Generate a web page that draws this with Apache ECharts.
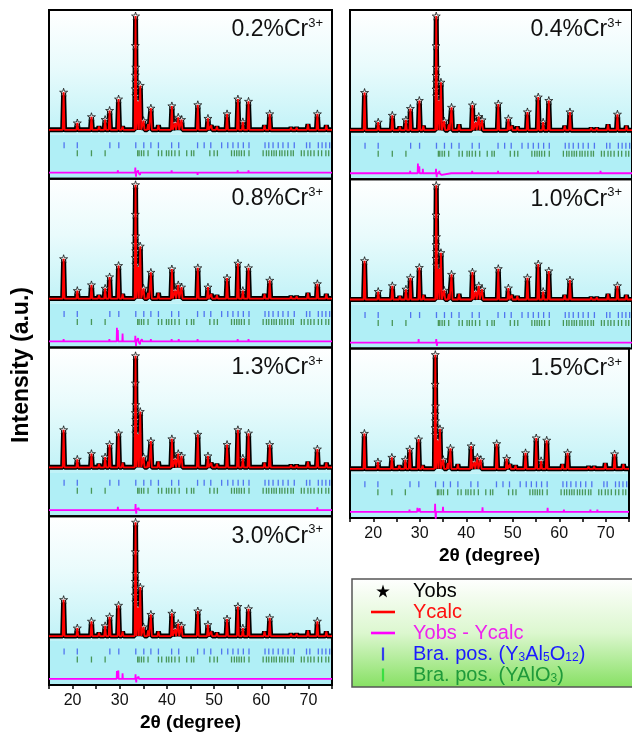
<!DOCTYPE html>
<html><head><meta charset="utf-8">
<script src="https://cdn.jsdelivr.net/npm/echarts@6/dist/echarts.min.js"></script>
<style>html,body{margin:0;padding:0;background:#fff}#c{width:632px;height:734px}</style>
</head><body><div id="c"></div>
<script>
// ---------------- DATA ----------------
const xTickLabels = [20, 30, 40, 50, 60, 70];
const peakPos = [18.1,21.0,24.0,25.6,26.9,27.85,29.75,30.6,33.35,33.85,34.35,35.05,36.0,36.6,38.2,41.05,41.75,42.4,43.1,46.55,48.7,49.4,50.6,52.75,55.05,56.1,57.3,60.7,61.8,66.3,67.5,69.9,71.9,73.8];
const h02 = [0.33,0.06,0.115,0.03,0.09,0.17,0.27,0.03,1.0,0.25,0.39,0.08,0.05,0.19,0.04,0.21,0.06,0.11,0.09,0.22,0.10,0.04,0.03,0.14,0.27,0.07,0.25,0.04,0.14,0.02,0.02,0.05,0.14,0.04];
const h04 = [0.33,0.07,0.13,0.03,0.09,0.19,0.26,0.04,1.0,0.26,0.42,0.08,0.05,0.20,0.05,0.22,0.07,0.12,0.09,0.23,0.10,0.04,0.03,0.16,0.29,0.07,0.26,0.04,0.16,0.02,0.02,0.05,0.14,0.04];
const h08 = [0.35,0.07,0.12,0.03,0.09,0.19,0.29,0.04,1.0,0.28,0.46,0.09,0.05,0.23,0.05,0.26,0.07,0.12,0.10,0.27,0.10,0.04,0.03,0.18,0.31,0.07,0.27,0.04,0.16,0.02,0.02,0.05,0.13,0.04];
const h10 = [0.34,0.07,0.12,0.03,0.09,0.19,0.28,0.04,1.0,0.27,0.41,0.08,0.05,0.22,0.05,0.24,0.07,0.12,0.09,0.27,0.10,0.04,0.03,0.19,0.31,0.07,0.25,0.04,0.17,0.02,0.02,0.05,0.12,0.04];
const h13 = [0.33,0.07,0.12,0.03,0.09,0.20,0.30,0.04,0.98,0.29,0.49,0.09,0.05,0.23,0.05,0.25,0.07,0.12,0.10,0.29,0.10,0.04,0.03,0.20,0.33,0.08,0.30,0.04,0.20,0.02,0.02,0.05,0.16,0.04];
const h15 = [0.31,0.06,0.10,0.03,0.08,0.17,0.26,0.03,1.0,0.25,0.35,0.08,0.05,0.18,0.04,0.20,0.06,0.10,0.08,0.22,0.09,0.04,0.03,0.14,0.27,0.07,0.25,0.04,0.14,0.02,0.02,0.05,0.13,0.04];
const h30 = [0.32,0.07,0.13,0.03,0.09,0.17,0.27,0.04,1.0,0.25,0.43,0.08,0.05,0.19,0.04,0.20,0.06,0.11,0.09,0.22,0.10,0.04,0.03,0.15,0.26,0.07,0.24,0.04,0.16,0.02,0.02,0.05,0.13,0.04];
const mainPeakObs = [0.74, 0.55, 0.48, 0.42, 0.36, 0.30];
const braggYAG = [18.2,21.0,27.9,29.8,33.4,35.1,36.6,38.2,41.0,42.5,46.5,47.9,49.3,51.6,52.9,54.0,55.1,56.2,57.4,60.8,61.6,62.5,63.6,64.6,65.7,67.0,69.6,70.3,72.1,72.9,73.7,74.5];
const braggYAP = [21.0,24.0,26.9,33.8,34.1,34.6,35.1,36.0,38.2,38.9,39.9,40.4,41.0,41.7,42.6,44.2,45.2,45.7,49.1,50.0,50.7,53.7,54.3,54.8,55.3,55.8,56.4,57.4,60.4,61.1,61.6,62.2,62.7,63.2,63.9,64.4,65.0,65.6,66.3,66.8,68.5,69.1,69.9,70.5,71.2,72.1,72.8,73.7,74.3];
const d02 = [[18.1,0.015],[18.25,-0.01],[24.0,0.01],[27.8,0.015],[29.6,0.02],[29.9,0.015],[30.6,0.01],[33.3,0.045],[33.45,-0.035],[33.9,0.02],[34.3,-0.02],[34.6,0.015],[35.1,0.01],[36.6,0.015],[41.0,0.02],[41.3,-0.01],[42.5,0.015],[46.5,-0.02],[48.7,0.015],[52.7,0.015],[55.0,0.02],[55.2,-0.015],[57.3,0.02],[61.8,0.015],[71.9,0.015]];
const d04 = [[18.1,0.015],[24.0,0.01],[27.8,0.02],[29.45,0.085],[29.75,0.06],[30.5,0.04],[33.3,0.04],[33.45,-0.035],[34.0,0.02],[34.5,-0.015],[36.6,0.015],[41.0,0.02],[42.5,0.015],[46.5,0.02],[52.7,0.015],[55.0,0.02],[57.3,0.015],[61.8,0.015],[66.7,0.015],[68.3,0.02],[71.9,0.015]];
const d08 = [[18.1,0.02],[24.0,0.012],[27.8,0.02],[29.4,0.12],[29.6,0.10],[30.6,0.07],[33.3,0.05],[33.45,-0.04],[33.9,0.03],[34.3,-0.025],[34.7,0.02],[36.6,0.02],[41.0,0.02],[42.5,0.02],[46.5,0.02],[48.7,0.015],[52.7,0.015],[55.0,0.02],[57.3,0.02],[61.8,0.015],[71.9,0.015]];
const d10 = [[18.1,0.012],[24.0,0.01],[27.8,0.012],[29.6,0.03],[30.6,0.012],[33.35,0.03],[33.5,-0.03],[34.2,0.015],[36.6,0.01],[41.0,0.012],[46.5,0.012],[55.0,0.015],[57.3,0.012],[61.8,0.01],[71.9,0.01]];
const d13 = [[18.1,0.015],[24.0,0.01],[27.8,0.015],[29.6,0.03],[30.6,0.015],[33.35,0.055],[33.5,-0.03],[34.0,0.02],[34.4,-0.015],[36.6,0.015],[41.0,0.015],[42.5,0.012],[46.5,0.015],[52.7,0.012],[55.0,0.015],[57.3,0.015],[61.8,0.012],[71.9,0.025]];
const d15 = [[18.1,0.012],[24.0,0.01],[27.8,0.02],[29.5,0.035],[30.0,0.03],[33.3,0.07],[33.45,-0.07],[35.0,0.045],[36.6,0.015],[41.0,0.015],[43.5,0.04],[46.5,0.015],[52.7,0.015],[55.0,0.015],[57.5,0.035],[61.0,0.02],[66.7,0.02],[68.2,0.02],[71.9,0.012]];
const d30 = [[18.1,0.015],[24.0,0.01],[27.8,0.015],[29.4,0.07],[29.7,0.075],[30.6,0.05],[33.35,0.04],[33.5,-0.03],[34.0,0.02],[34.4,-0.015],[36.6,0.015],[41.0,0.015],[46.5,0.015],[52.7,0.012],[55.0,0.015],[57.3,0.015],[61.8,0.012],[71.9,0.015]];

// ---------------- LAYOUT / STYLE ----------------
const X_MIN = 15, X_MAX = 75;
const Y_MIN = -0.43, Y_MAX = 1.053, Y_SPLIT = -0.044;
const Y_BLUE = -0.136, Y_GREEN = -0.206, DIFF_BASE = -0.377;
const COL_X = [49, 350], COL_W = 283, TOP = 10, ROW_H = [168.75, 169.3];
const FONT = 'Arial, "Liberation Sans", sans-serif';
const STAR = 'path://M50,2 L61,37 L98,37 L68,59 L79,95 L50,73 L21,95 L32,59 L2,37 L39,37 Z';

const panels = [
  {cr:'0.2', col:0, row:0, h:h02, d:d02},
  {cr:'0.8', col:0, row:1, h:h08, d:d08, ticks:true},
  {cr:'1.3', col:0, row:2, h:h13, d:d13},
  {cr:'3.0', col:0, row:3, h:h30, d:d30, bottom:true},
  {cr:'0.4', col:1, row:0, h:h04, d:d04},
  {cr:'1.0', col:1, row:1, h:h10, d:d10},
  {cr:'1.5', col:1, row:2, h:h15, d:d15, bottom:true}
];

function profile(h) {
  const pts = [[X_MIN, 0]];
  peakPos.forEach((p, k) => { pts.push([p - 0.2, 0], [p, h[k]], [p + 0.2, 0]); });
  pts.push([X_MAX, 0]);
  return pts;
}
function obsStars(h) {
  const pts = [];
  peakPos.forEach((p, k) => { if (h[k] >= 0.06) pts.push([p, h[k]]); });
  mainPeakObs.forEach((v, i) => pts.push([peakPos[8] + (i % 2 ? 0.05 : -0.05), v]));
  return pts;
}
function diffLine(d) {
  const pts = [[X_MIN, DIFF_BASE]];
  d.forEach(([p, v]) => { pts.push([p - 0.06, DIFF_BASE], [p, DIFF_BASE + v], [p + 0.06, DIFF_BASE]); });
  pts.push([X_MAX, DIFF_BASE]);
  return pts;
}

const grids = [], xAxes = [], yAxes = [], series = [], titles = [];
panels.forEach((P, i) => {
  const top = TOP + P.row * ROW_H[P.col];
  grids.push({left: COL_X[P.col], top: top, width: COL_W, height: ROW_H[P.col],
    show: true, borderColor: '#000', borderWidth: 2, backgroundColor: 'transparent', z: 3});
  xAxes.push({type: 'value', gridIndex: i, min: X_MIN, max: X_MAX, interval: 5,
    axisLine: {show: !!P.bottom, onZero: false, lineStyle: {color: '#000', width: 2}},
    axisTick: {show: !!(P.bottom || P.ticks), length: 4, lineStyle: {color: '#000', width: 1.5}},
    axisLabel: {show: !!P.bottom, fontSize: 16, fontFamily: FONT, color: '#111', margin: 8,
      formatter: v => xTickLabels.indexOf(v) >= 0 ? String(v) : ''},
    splitLine: {show: false},
    name: P.bottom ? '2θ (degree)' : '', nameLocation: 'middle', nameGap: 28,
    nameTextStyle: {fontSize: 19, fontWeight: 'bold', fontFamily: FONT, color: '#000'}});
  yAxes.push({type: 'value', gridIndex: i, min: Y_MIN, max: Y_MAX, show: false});

  const ax = {xAxisIndex: i, yAxisIndex: i};
  series.push(Object.assign({type: 'line', name: '_bg', data: [[X_MIN, 0]], showSymbol: false,
    lineStyle: {opacity: 0}, silent: true, z: 0,
    markArea: {silent: true, label: {show: false}, data: [
      [{xAxis: X_MIN, yAxis: Y_MAX, itemStyle: {color: {type: 'linear', x: 0, y: 0, x2: 0, y2: 1,
        colorStops: [{offset: 0, color: '#ffffff'}, {offset: 0.45, color: '#e9fbfc'}, {offset: 1, color: '#c0f2f7'}]}}},
       {xAxis: X_MAX, yAxis: Y_SPLIT}],
      [{xAxis: X_MIN, yAxis: Y_SPLIT, itemStyle: {color: '#b0eff6'}}, {xAxis: X_MAX, yAxis: Y_MIN}]
    ]}}, ax));
  const prof = profile(P.h);
  series.push(Object.assign({type: 'line', name: 'Yobs', data: prof, showSymbol: false, silent: true,
    lineStyle: {color: '#000', width: 5}, itemStyle: {color: '#000'}, z: 2}, ax));
  series.push(Object.assign({type: 'scatter', name: 'Yobs', data: obsStars(P.h), symbol: STAR, symbolSize: 8,
    silent: true, itemStyle: {color: '#fff', borderColor: '#000', borderWidth: 0.9}, z: 3}, ax));
  series.push(Object.assign({type: 'line', name: 'Ycalc', data: prof, showSymbol: false, silent: true,
    lineStyle: {color: '#ff0000', width: 1.8}, itemStyle: {color: '#ff0000'}, z: 4}, ax));
  series.push(Object.assign({type: 'scatter', name: 'Bra. pos. (Y3Al5O12)', data: braggYAG.map(p => [p, Y_BLUE]),
    symbol: 'rect', symbolSize: [1.3, 6], silent: true, itemStyle: {color: '#3a58ee'}, z: 3}, ax));
  series.push(Object.assign({type: 'scatter', name: 'Bra. pos. (YAlO3)', data: braggYAP.map(p => [p, Y_GREEN]),
    symbol: 'rect', symbolSize: [1.3, 6], silent: true, itemStyle: {color: '#2f7f2f'}, z: 3}, ax));
  series.push(Object.assign({type: 'line', name: 'Yobs - Ycalc', data: diffLine(P.d), showSymbol: false, silent: true,
    lineStyle: {color: '#ff00ff', width: 1.8}, itemStyle: {color: '#ff00ff'}, z: 3}, ax));

  const t = {text: '{m|' + P.cr + '%Cr}{s|3+}', top: top + 7, padding: 0,
    textStyle: {fontWeight: 'normal', rich: {
      m: {fontSize: 23, fontWeight: 'normal', fontFamily: FONT, color: '#111', lineHeight: 26},
      s: {fontSize: 13, fontWeight: 'normal', fontFamily: FONT, color: '#111', lineHeight: 13, verticalAlign: 'top'}}}};
  if (P.col === 0) t.right = 309; else t.right = 10;
  titles.push(t);
});

const legendRich = {
  k: {color: '#000', fontSize: 20, fontFamily: FONT, lineHeight: 20},
  r: {color: '#ff1010', fontSize: 20, fontFamily: FONT, lineHeight: 20},
  m: {color: '#ee22ee', fontSize: 20, fontFamily: FONT, lineHeight: 20},
  b: {color: '#1a1aff', fontSize: 20, fontFamily: FONT, lineHeight: 20},
  bs: {color: '#1a1aff', fontSize: 12, fontFamily: FONT, lineHeight: 8, verticalAlign: 'bottom'},
  g: {color: '#1f9a3a', fontSize: 20, fontFamily: FONT, lineHeight: 20},
  gs: {color: '#1f9a3a', fontSize: 12, fontFamily: FONT, lineHeight: 8, verticalAlign: 'bottom'}
};
const legendText = {
  'Yobs': '{k|Yobs}',
  'Ycalc': '{r|Ycalc}',
  'Yobs - Ycalc': '{m|Yobs - Ycalc}',
  'Bra. pos. (Y3Al5O12)': '{b|Bra. pos. (Y}{bs|3}{b|Al}{bs|5}{b|O}{bs|12}{b|)}',
  'Bra. pos. (YAlO3)': '{g|Bra. pos. (YAlO}{gs|3}{g|)}'
};

const option = {
  animation: false,
  backgroundColor: '#fff',
  title: titles,
  grid: grids, xAxis: xAxes, yAxis: yAxes, series: series,
  legend: {
    orient: 'vertical', left: 371, top: 581, padding: 0, itemGap: 1,
    itemWidth: 24, itemHeight: 13, selectedMode: false, z: 10,
    textStyle: {fontSize: 20, fontFamily: FONT, lineHeight: 20, padding: [0, 0, 0, 13], rich: legendRich},
    formatter: n => legendText[n] || n,
    data: [
      {name: 'Yobs', icon: STAR, itemStyle: {color: '#000', borderColor: '#000', borderWidth: 0}},
      {name: 'Ycalc', icon: 'path://M0,0H24V2.6H0Z', itemStyle: {color: '#ff0000', borderWidth: 0}},
      {name: 'Yobs - Ycalc', icon: 'path://M0,0H24V2.6H0Z', itemStyle: {color: '#ff00ff', borderWidth: 0}},
      {name: 'Bra. pos. (Y3Al5O12)', icon: 'path://M0,0H2.2V13H0Z', itemStyle: {color: '#1010ff', borderWidth: 0}},
      {name: 'Bra. pos. (YAlO3)', icon: 'path://M0,0H2.2V13H0Z', itemStyle: {color: '#22dd33', borderWidth: 0}}
    ]
  },
  graphic: [
    {type: 'rect', z: 1, shape: {x: 352, y: 579, width: 300, height: 108},
      style: {fill: new echarts.graphic.LinearGradient(0, 0, 0, 1, [
        {offset: 0, color: '#ffffff'}, {offset: 0.5, color: '#dcf7cf'}, {offset: 1, color: '#86e062'}]),
        stroke: '#555', lineWidth: 1.5}},
    {type: 'text', z: 5, x: 22, y: 365, rotation: Math.PI / 2,
      style: {text: 'Intensity (a.u.)', font: 'bold 23px ' + FONT, fill: '#000', align: 'center', verticalAlign: 'middle'}}
  ]
};
const chart = echarts.init(document.getElementById('c'), null, {renderer: 'canvas'});
chart.setOption(option);
</script>
</body></html>
